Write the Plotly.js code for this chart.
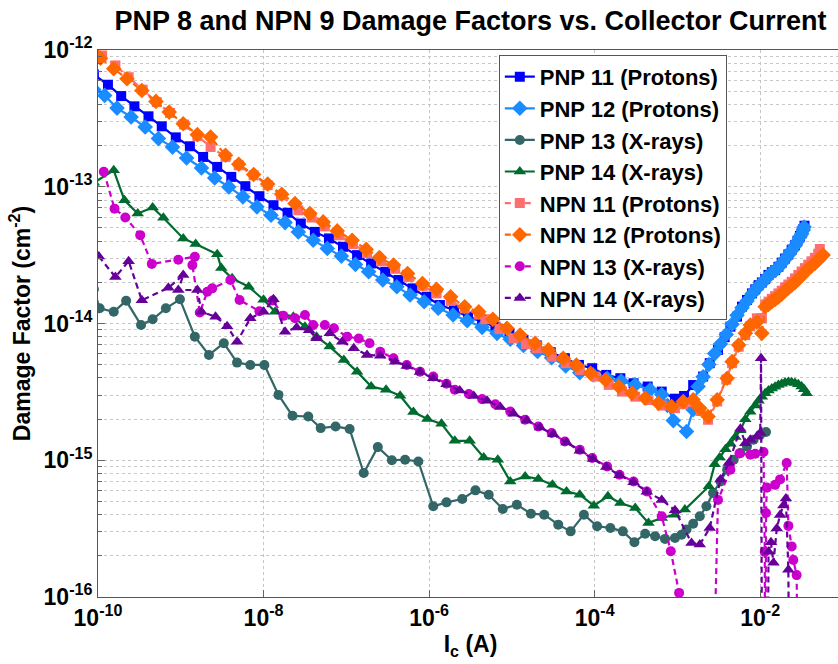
<!DOCTYPE html>
<html>
<head>
<meta charset="utf-8">
<script src="https://cdn.plot.ly/plotly-3.0.1.min.js"></script>
<style>
html, body { margin: 0; padding: 0; overflow: hidden; background: #fff; }
#chart { width: 845px; height: 664px; }
</style>
</head>
<body>
<div id="chart"></div>
<script>
// Each point: [log10(Ic in A), log10(Damage factor in cm^-2)]
const pnp11 = [[-10.05,-12.18],[-9.88,-12.254],[-9.72,-12.337],[-9.56,-12.412],[-9.39,-12.485],[-9.23,-12.558],[-9.06,-12.639],[-8.89,-12.704],[-8.73,-12.782],[-8.56,-12.855],[-8.39,-12.928],[-8.22,-12.996],[-8.05,-13.069],[-7.88,-13.135],[-7.71,-13.19],[-7.55,-13.269],[-7.38,-13.33],[-7.21,-13.378],[-7.04,-13.439],[-6.87,-13.5],[-6.70,-13.561],[-6.53,-13.622],[-6.37,-13.682],[-6.20,-13.743],[-6.03,-13.804],[-5.87,-13.865],[-5.70,-13.901],[-5.53,-13.95],[-5.36,-13.987],[-5.20,-14.023],[-5.03,-14.07],[-4.86,-14.12],[-4.70,-14.16],[-4.53,-14.21],[-4.36,-14.254],[-4.19,-14.303],[-4.03,-14.327],[-3.86,-14.376],[-3.69,-14.40],[-3.53,-14.437],[-3.36,-14.461],[-3.19,-14.498],[-3.03,-14.55],[-2.92,-14.53],[-2.81,-14.45],[-2.69,-14.388],[-2.61,-14.29],[-2.51,-14.193],[-2.43,-14.10],[-2.36,-14.023],[-2.28,-13.95],[-2.22,-13.877],[-2.16,-13.828],[-2.10,-13.78],[-2.06,-13.75],[-2.02,-13.72],[-1.98,-13.70],[-1.94,-13.675],[-1.90,-13.645],[-1.86,-13.625],[-1.82,-13.61],[-1.78,-13.585],[-1.74,-13.555],[-1.70,-13.525],[-1.66,-13.495],[-1.62,-13.46],[-1.58,-13.427],[-1.55,-13.395],[-1.52,-13.36],[-1.50,-13.34],[-1.48,-13.31],[-1.465,-13.285]];

const pnp12 = [[-10.05,-12.29],[-9.92,-12.332],[-9.77,-12.425],[-9.60,-12.49],[-9.43,-12.563],[-9.27,-12.648],[-9.10,-12.71],[-8.93,-12.79],[-8.75,-12.863],[-8.59,-12.936],[-8.42,-13.001],[-8.25,-13.074],[-8.08,-13.147],[-7.91,-13.208],[-7.74,-13.262],[-7.58,-13.33],[-7.40,-13.391],[-7.23,-13.451],[-7.06,-13.507],[-6.89,-13.568],[-6.73,-13.622],[-6.56,-13.682],[-6.39,-13.731],[-6.23,-13.792],[-6.06,-13.841],[-5.89,-13.889],[-5.71,-13.938],[-5.54,-13.98],[-5.36,-14.028],[-5.18,-14.072],[-5.02,-14.115],[-4.86,-14.16],[-4.69,-14.205],[-4.52,-14.25],[-4.35,-14.31],[-4.18,-14.36],[-4.02,-14.375],[-3.85,-14.40],[-3.68,-14.42],[-3.51,-14.449],[-3.33,-14.485],[-3.19,-14.52],[-3.12,-14.60],[-3.05,-14.71],[-2.89,-14.79],[-2.81,-14.63],[-2.75,-14.46],[-2.69,-14.39],[-2.62,-14.30],[-2.55,-14.22],[-2.48,-14.15],[-2.41,-14.08],[-2.34,-14.005],[-2.28,-13.94],[-2.22,-13.885],[-2.16,-13.835],[-2.10,-13.785],[-2.06,-13.755],[-2.02,-13.725],[-1.98,-13.705],[-1.94,-13.68],[-1.90,-13.65],[-1.86,-13.63],[-1.82,-13.612],[-1.78,-13.59],[-1.74,-13.56],[-1.70,-13.53],[-1.66,-13.50],[-1.62,-13.466],[-1.58,-13.432],[-1.55,-13.40],[-1.52,-13.366],[-1.50,-13.345],[-1.48,-13.316],[-1.47,-13.295]];

const pnp13 = [[-10.05,-13.75],[-9.98,-13.889],[-9.81,-13.914],[-9.66,-13.834],[-9.48,-14.011],[-9.34,-13.969],[-9.18,-13.889],[-9.01,-13.823],[-8.83,-14.096],[-8.66,-14.23],[-8.48,-14.144],[-8.32,-14.286],[-8.16,-14.303],[-7.99,-14.303],[-7.82,-14.522],[-7.65,-14.675],[-7.46,-14.68],[-7.31,-14.765],[-7.13,-14.753],[-6.96,-14.772],[-6.79,-15.093],[-6.62,-14.904],[-6.45,-15.0],[-6.29,-14.996],[-6.13,-15.009],[-5.95,-15.337],[-5.79,-15.308],[-5.60,-15.283],[-5.44,-15.22],[-5.28,-15.252],[-5.11,-15.356],[-4.94,-15.325],[-4.77,-15.391],[-4.61,-15.398],[-4.44,-15.471],[-4.29,-15.52],[-4.13,-15.398],[-3.97,-15.483],[-3.81,-15.495],[-3.66,-15.52],[-3.52,-15.6],[-3.39,-15.537],[-3.27,-15.556],[-3.15,-15.575],[-3.03,-15.568],[-2.95,-15.544],[-2.89,-15.507],[-2.81,-15.464],[-2.73,-15.41],[-2.65,-15.337],[-2.57,-15.239],[-2.48,-15.155],[-2.40,-15.069],[-2.32,-14.996],[-2.24,-14.947],[-2.16,-14.899],[-2.08,-14.85],[-2.00,-14.814],[-1.93,-14.794]];

const pnp14 = [[-10.05,-12.97],[-9.81,-12.88],[-9.68,-13.099],[-9.52,-13.196],[-9.34,-13.152],[-9.21,-13.226],[-8.97,-13.378],[-8.82,-13.418],[-8.56,-13.494],[-8.51,-13.595],[-8.38,-13.67],[-8.18,-13.731],[-8.00,-13.826],[-7.86,-13.914],[-7.64,-13.95],[-7.50,-14.023],[-7.36,-14.096],[-7.20,-14.169],[-7.03,-14.266],[-6.87,-14.352],[-6.70,-14.461],[-6.52,-14.485],[-6.35,-14.528],[-6.19,-14.648],[-6.02,-14.698],[-5.85,-14.734],[-5.69,-14.858],[-5.51,-14.858],[-5.34,-14.98],[-5.17,-14.996],[-5.02,-15.155],[-4.84,-15.118],[-4.68,-15.137],[-4.51,-15.179],[-4.34,-15.228],[-4.18,-15.252],[-4.01,-15.332],[-3.84,-15.264],[-3.69,-15.312],[-3.51,-15.349],[-3.35,-15.458],[-3.19,-15.422],[-3.03,-15.398],[-2.91,-15.361],[-2.62,-15.19],[-2.55,-15.03],[-2.49,-14.98],[-2.42,-14.92],[-2.36,-14.88],[-2.30,-14.83],[-2.24,-14.78],[-2.18,-14.70],[-2.12,-14.645],[-2.06,-14.60],[-2.02,-14.565],[-1.98,-14.535],[-1.94,-14.51],[-1.90,-14.49],[-1.86,-14.475],[-1.82,-14.462],[-1.78,-14.45],[-1.74,-14.44],[-1.70,-14.432],[-1.66,-14.428],[-1.62,-14.43],[-1.58,-14.436],[-1.54,-14.445],[-1.50,-14.46],[-1.47,-14.48],[-1.44,-14.51]];

const npn11 = [[-10.05,-12.00],[-9.95,-12.04],[-9.79,-12.113],[-9.63,-12.199],[-9.46,-12.29],[-9.29,-12.381],[-9.13,-12.46],[-8.96,-12.545],[-8.80,-12.63],[-8.64,-12.709],[-8.46,-12.782],[-8.30,-12.843],[-8.12,-12.916],[-7.95,-12.989],[-7.79,-13.06],[-7.58,-13.172],[-7.42,-13.225],[-7.26,-13.29],[-7.09,-13.355],[-6.92,-13.42],[-6.75,-13.485],[-6.58,-13.545],[-6.41,-13.60],[-6.25,-13.66],[-6.08,-13.725],[-5.91,-13.78],[-5.74,-13.835],[-5.57,-13.89],[-5.40,-13.935],[-5.32,-13.969],[-5.15,-14.04],[-4.98,-14.108],[-4.83,-14.15],[-4.70,-14.181],[-4.52,-14.242],[-4.35,-14.29],[-4.18,-14.339],[-3.99,-14.388],[-3.83,-14.449],[-3.67,-14.498],[-3.51,-14.535],[-3.35,-14.56],[-3.19,-14.60],[-3.03,-14.619],[-2.93,-14.59],[-2.81,-14.575],[-2.72,-14.64],[-2.63,-14.704],[-2.52,-14.57],[-2.41,-14.41],[-2.34,-14.29],[-2.26,-14.17],[-2.18,-14.085],[-2.12,-14.02],[-2.04,-13.962],[-1.98,-13.96],[-1.94,-13.86],[-1.90,-13.84],[-1.86,-13.82],[-1.82,-13.80],[-1.78,-13.78],[-1.74,-13.76],[-1.70,-13.735],[-1.66,-13.715],[-1.62,-13.695],[-1.58,-13.67],[-1.54,-13.645],[-1.50,-13.62],[-1.46,-13.595],[-1.42,-13.57],[-1.38,-13.545],[-1.34,-13.52],[-1.30,-13.49],[-1.28,-13.455]];

const npn12 = [[-10.05,-12.02],[-9.97,-12.06],[-9.81,-12.137],[-9.65,-12.21],[-9.47,-12.296],[-9.30,-12.376],[-9.14,-12.454],[-8.97,-12.539],[-8.80,-12.619],[-8.64,-12.636],[-8.46,-12.77],[-8.30,-12.835],[-8.12,-12.91],[-7.95,-12.98],[-7.78,-13.055],[-7.62,-13.123],[-7.44,-13.196],[-7.28,-13.257],[-7.11,-13.323],[-6.93,-13.391],[-6.76,-13.458],[-6.60,-13.517],[-6.43,-13.573],[-6.26,-13.634],[-6.08,-13.707],[-5.91,-13.75],[-5.74,-13.804],[-5.57,-13.877],[-5.40,-13.914],[-5.23,-13.969],[-5.06,-14.035],[-4.90,-14.084],[-4.72,-14.145],[-4.56,-14.193],[-4.38,-14.254],[-4.22,-14.303],[-4.05,-14.364],[-3.87,-14.412],[-3.71,-14.461],[-3.55,-14.51],[-3.39,-14.546],[-3.23,-14.582],[-3.07,-14.607],[-2.93,-14.571],[-2.81,-14.558],[-2.73,-14.62],[-2.63,-14.68],[-2.52,-14.558],[-2.40,-14.40],[-2.34,-14.279],[-2.26,-14.157],[-2.18,-14.072],[-2.12,-14.011],[-2.04,-13.99],[-1.98,-14.072],[-1.94,-13.877],[-1.90,-13.86],[-1.86,-13.84],[-1.82,-13.825],[-1.78,-13.805],[-1.74,-13.785],[-1.70,-13.76],[-1.66,-13.74],[-1.62,-13.72],[-1.58,-13.70],[-1.54,-13.675],[-1.50,-13.65],[-1.46,-13.625],[-1.42,-13.60],[-1.38,-13.58],[-1.34,-13.56],[-1.30,-13.535],[-1.27,-13.515],[-1.24,-13.50]];

const npn13 = [[-9.93,-12.89],[-9.80,-13.16],[-9.67,-13.225],[-9.49,-13.354],[-9.35,-13.564],[-9.03,-13.534],[-8.83,-13.512],[-8.86,-13.573],[-8.77,-13.92],[-8.68,-13.768],[-8.62,-13.743],[-8.40,-13.682],[-8.29,-13.828],[-8.05,-13.91],[-7.89,-13.832],[-7.76,-13.944],[-7.62,-13.962],[-7.50,-13.938],[-7.40,-14.011],[-7.26,-14.011],[-7.15,-14.035],[-6.99,-14.096],[-6.85,-14.11],[-6.72,-14.145],[-6.59,-14.206],[-6.43,-14.254],[-6.27,-14.303],[-6.11,-14.352],[-5.95,-14.388],[-5.79,-14.44],[-5.69,-14.485],[-5.52,-14.515],[-5.36,-14.553],[-5.20,-14.59],[-5.02,-14.644],[-4.84,-14.704],[-4.68,-14.753],[-4.52,-14.801],[-4.36,-14.863],[-4.18,-14.923],[-4.03,-14.984],[-3.85,-15.045],[-3.70,-15.106],[-3.53,-15.155],[-3.37,-15.228],[-3.19,-15.41],[-3.08,-15.666],[-2.98,-15.97],[-2.94,-17.5],[-2.60,-17.5],[-2.51,-15.29],[-2.36,-15.07],[-2.25,-14.95],[-2.12,-14.96],[-2.06,-14.953],[-1.96,-14.94],[-1.945,-15.67],[-1.94,-17.5],[-1.93,-15.386],[-1.92,-15.2],[-1.82,-15.18],[-1.76,-15.14],[-1.68,-15.02],[-1.66,-15.48],[-1.62,-15.63],[-1.60,-15.73],[-1.56,-15.84],[-1.53,-17.5]];

const npn14 = [[-9.99,-13.51],[-9.79,-13.66],[-9.63,-13.544],[-9.47,-13.83],[-9.15,-13.739],[-8.97,-13.646],[-9.03,-13.755],[-8.80,-13.755],[-8.75,-13.914],[-8.58,-13.95],[-8.44,-14.02],[-8.32,-14.133],[-8.16,-13.962],[-8.00,-13.914],[-7.88,-13.823],[-7.74,-14.06],[-7.60,-14.03],[-7.45,-14.05],[-7.36,-14.108],[-7.20,-14.072],[-7.05,-14.133],[-6.91,-14.181],[-6.75,-14.23],[-6.59,-14.235],[-6.41,-14.279],[-6.27,-14.31],[-6.11,-14.355],[-5.95,-14.40],[-5.79,-14.445],[-5.63,-14.49],[-5.46,-14.53],[-5.30,-14.565],[-5.14,-14.61],[-4.98,-14.66],[-4.82,-14.71],[-4.66,-14.76],[-4.50,-14.81],[-4.34,-14.87],[-4.18,-14.93],[-4.02,-14.99],[-3.86,-15.05],[-3.70,-15.11],[-3.53,-15.16],[-3.37,-15.23],[-3.19,-15.29],[-3.03,-15.365],[-2.83,-15.605],[-2.73,-15.617],[-2.61,-15.495],[-2.48,-15.14],[-2.38,-15.02],[-2.24,-14.77],[-2.18,-14.875],[-2.12,-14.85],[-2.04,-14.826],[-2.00,-14.80],[-1.99,-14.254],[-1.975,-17.5],[-1.915,-17.5],[-1.90,-15.67],[-1.87,-15.60],[-1.84,-15.75],[-1.80,-15.50],[-1.76,-15.40],[-1.72,-15.33],[-1.69,-15.28],[-1.66,-15.80],[-1.64,-17.5]];

const seriesNames = ['PNP 11 (Protons)','PNP 12 (Protons)','PNP 13 (X-rays)','PNP 14 (X-rays)','NPN 11 (Protons)','NPN 12 (Protons)','NPN 13 (X-rays)','NPN 14 (X-rays)'];
const seriesColors = ['#0000ff','#1a8cff','#336666','#006b2e','#ff6e6e','#ff6600','#cc00cc','#660099'];
const seriesSymbols = ['square','diamond','circle','triangle-up','square','diamond','circle','triangle-up'];
const seriesDash = ['solid','solid','solid','solid','6px,4px','6px,4px','6px,4px','6px,4px'];
const seriesData = [pnp11, pnp12, pnp13, pnp14, npn11, npn12, npn13, npn14];
const symbolSize = { square: 10, diamond: 12, circle: 10, 'triangle-up': 11 };

const xTickVals = [1e-10, 1e-8, 1e-6, 1e-4, 1e-2];
const xTickText = ['10<sup>-10</sup>','10<sup>-8</sup>','10<sup>-6</sup>','10<sup>-4</sup>','10<sup>-2</sup>'];
const yTickVals = [1e-16, 1e-15, 1e-14, 1e-13, 1e-12];
const yTickText = ['10<sup>-16</sup>','10<sup>-15</sup>','10<sup>-14</sup>','10<sup>-13</sup>','10<sup>-12</sup>'];

const FONT = 'Liberation Sans, Arial, Helvetica, sans-serif';

const traces = seriesData.map((pts, i) => ({
  type: 'scatter',
  mode: 'lines+markers',
  name: seriesNames[i],
  x: pts.map(p => Math.pow(10, p[0])),
  y: pts.map(p => Math.pow(10, p[1])),
  line: { color: seriesColors[i], width: 2.2, dash: seriesDash[i] },
  marker: { symbol: seriesSymbols[i], color: seriesColors[i], size: symbolSize[seriesSymbols[i]], line: { width: 0 } }
}));

const layout = {
  width: 845,
  height: 664,
  margin: { l: 98, r: 2, t: 50, b: 67 },
  paper_bgcolor: '#ffffff',
  plot_bgcolor: '#ffffff',
  font: { family: FONT, color: '#000', weight: 700 },
  title: {
    text: 'PNP 8 and NPN 9 Damage Factors vs. Collector Current',
    font: { family: FONT, size: 27, weight: 700, color: '#000' },
    xref: 'paper', x: 0.5, xanchor: 'center',
    yref: 'container', y: 0.969, yanchor: 'middle'
  },
  xaxis: {
    type: 'log',
    range: [-10, -1],
    tickmode: 'array',
    tickvals: xTickVals,
    ticktext: xTickText,
    ticks: 'inside', ticklen: 7, tickwidth: 1, tickcolor: '#666',
    showline: true, linecolor: '#555', linewidth: 1, mirror: true,
    showgrid: true, gridcolor: '#c4c4c4', gridwidth: 1, griddash: 'dot',
    zeroline: false,
    tickfont: { family: FONT, size: 23, weight: 700, color: '#000' },
    title: { text: 'I<sub>c</sub> (A)', font: { family: FONT, size: 23, weight: 700, color: '#000' }, standoff: 6 }
  },
  yaxis: {
    type: 'log',
    range: [-16, -12],
    tickmode: 'array',
    tickvals: yTickVals,
    ticktext: yTickText,
    ticks: 'inside', ticklen: 7, tickwidth: 1, tickcolor: '#666',
    showline: true, linecolor: '#555', linewidth: 1, mirror: true,
    showgrid: true, gridcolor: '#c4c4c4', gridwidth: 1, griddash: 'dot',
    minor: { dtick: 'D1', ticks: 'inside', ticklen: 4, tickcolor: '#666', showgrid: true, gridcolor: '#c8c8c8', gridwidth: 1, griddash: 'dot' },
    zeroline: false,
    tickfont: { family: FONT, size: 23, weight: 700, color: '#000' },
    title: { text: 'Damage Factor (cm<sup>-2</sup>)', font: { family: FONT, size: 23, weight: 700, color: '#000' }, standoff: 6 }
  },
  showlegend: true,
  legend: {
    x: 0.538, y: 0.991, xanchor: 'left', yanchor: 'top',
    bgcolor: '#ffffff', bordercolor: '#555', borderwidth: 1,
    font: { family: FONT, size: 22, weight: 700, color: '#000' },
    itemwidth: 30, tracegroupgap: 0
  }
};

Plotly.newPlot('chart', traces, layout, { displayModeBar: false, staticPlot: true });
</script>
</body>
</html>
